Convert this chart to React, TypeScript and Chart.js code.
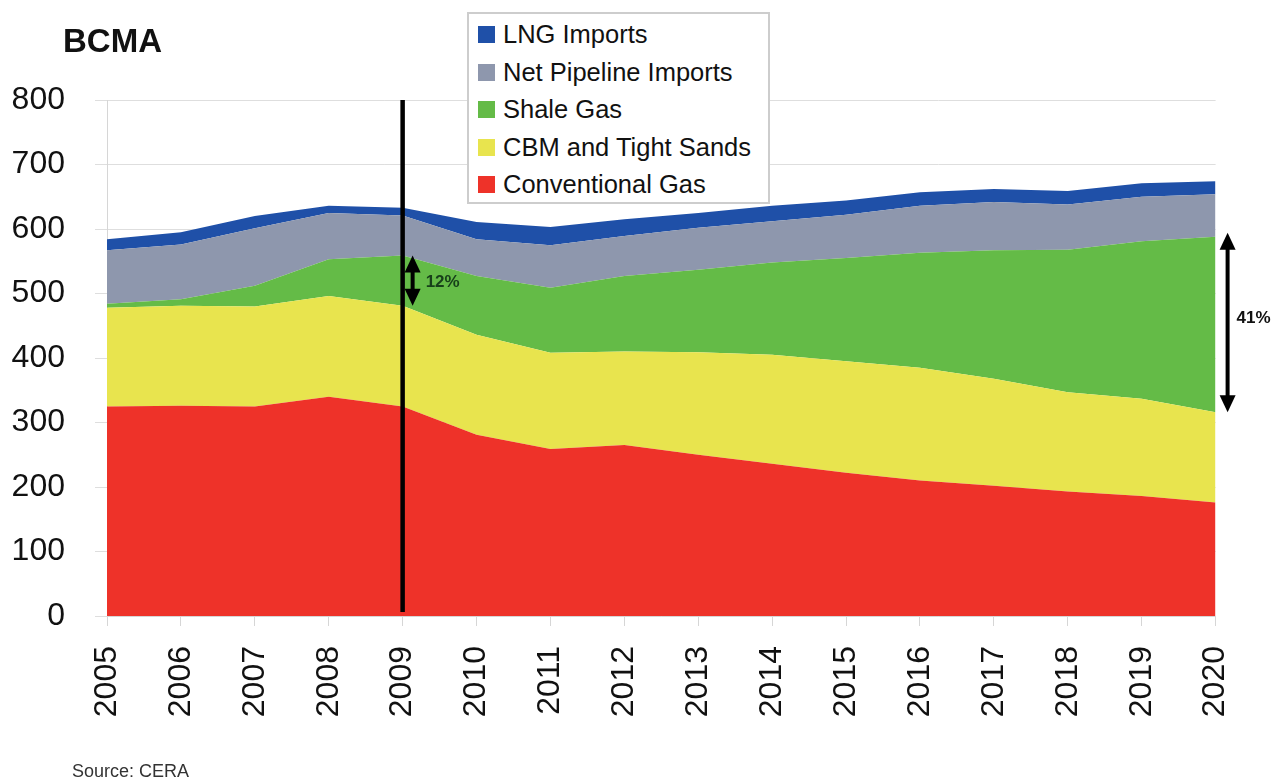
import React, { useEffect, useRef } from "react";
import { Chart, registerables } from "chart.js";

Chart.register(...registerables);

const years = ["2005","2006","2007","2008","2009","2010","2011","2012","2013","2014","2015","2016","2017","2018","2019","2020"];
const conventional = [325,326,325,340,325,281,259,265,250,236,222,210,202,193,186,176];
const cbmTight = [153,155,155,156,156,155,149,145,159,169,173,175,166,154,151,140];
const shale = [6,10,32,57,78,91,101,117,128,143,160,178,199,221,244,272];
const pipeline = [83,85,89,72,62,57,66,62,65,64,67,73,75,70,69,66];
const lng = [17,19,19,11,12,27,28,26,23,24,22,21,20,21,21,20];
const yTicks = [0,100,200,300,400,500,600,700,800];

const seriesNames = ["Conventional Gas","CBM and Tight Sands","Shale Gas","Net Pipeline Imports","LNG Imports"];
const seriesColors = ["#ee3229","#e8e44e","#64bb47","#8e97ad","#1f50a8"];
const markerYear = "2009";
const endYear = "2020";
const pctLabels = ["12%","41%"];

const FONT = "'Liberation Sans', Arial, Helvetica, sans-serif";

export default function App() {
  const ref = useRef<HTMLCanvasElement | null>(null);

  useEffect(() => {
    document.body.style.margin = "0";
    document.body.style.overflow = "hidden";
    const canvas = ref.current;
    if (!canvas) return;
    const values = [conventional, cbmTight, shale, pipeline, lng];
    const cum = (upto: number, i: number) => {
      let s = 0;
      for (let k = 0; k <= upto; k++) s += values[k][i];
      return s;
    };

    const drawArrow = (ctx: CanvasRenderingContext2D, x: number, y1: number, y2: number) => {
      const hw = 8, hh = 17;
      ctx.save();
      ctx.fillStyle = "#000";
      ctx.strokeStyle = "#000";
      ctx.lineWidth = 4;
      ctx.beginPath();
      ctx.moveTo(x, y1 + hh - 2);
      ctx.lineTo(x, y2 - hh + 2);
      ctx.stroke();
      ctx.beginPath();
      ctx.moveTo(x, y1);
      ctx.lineTo(x - hw, y1 + hh);
      ctx.lineTo(x + hw, y1 + hh);
      ctx.closePath();
      ctx.fill();
      ctx.beginPath();
      ctx.moveTo(x, y2);
      ctx.lineTo(x - hw, y2 - hh);
      ctx.lineTo(x + hw, y2 - hh);
      ctx.closePath();
      ctx.fill();
      ctx.restore();
    };

    const annot = {
      id: "annot",
      afterDatasetsDraw(chart: any) {
        const ctx = chart.ctx as CanvasRenderingContext2D;
        const xs = chart.scales.x;
        const ys = chart.scales.y;
        const area = chart.chartArea;
        const i9 = years.indexOf(markerYear);
        const i20 = years.indexOf(endYear);
        const x9 = xs.getPixelForValue(i9);
        ctx.save();
        ctx.strokeStyle = "#000";
        ctx.lineWidth = 4.5;
        ctx.beginPath();
        ctx.moveTo(x9, area.top);
        ctx.lineTo(x9, area.bottom - 4);
        ctx.stroke();
        ctx.restore();

        const a1 = ys.getPixelForValue(cum(2, i9));
        const b1 = ys.getPixelForValue(cum(1, i9));
        drawArrow(ctx, x9 + 10, a1, b1);
        ctx.save();
        ctx.font = `bold 17px ${FONT}`;
        ctx.fillStyle = "#17401a";
        ctx.textAlign = "left";
        ctx.textBaseline = "middle";
        ctx.fillText(pctLabels[0], x9 + 23, (a1 + b1) / 2 + 2);
        ctx.restore();

        const x20 = xs.getPixelForValue(i20);
        const a2 = ys.getPixelForValue(cum(2, i20)) - 4;
        const b2 = ys.getPixelForValue(cum(1, i20));
        drawArrow(ctx, x20 + 12, a2, b2);
        ctx.save();
        ctx.font = `bold 17px ${FONT}`;
        ctx.fillStyle = "#111";
        ctx.textAlign = "left";
        ctx.textBaseline = "middle";
        ctx.fillText(pctLabels[1], x20 + 21, (a2 + b2) / 2 - 4);
        ctx.restore();
      },
    };

    const chart = new Chart(canvas, {
      type: "line",
      data: {
        labels: years,
        datasets: values.map((v, k) => ({
          label: seriesNames[k],
          data: v,
          backgroundColor: seriesColors[k],
          borderColor: seriesColors[k],
          borderWidth: 0,
          pointRadius: 0,
          tension: 0,
          fill: k === 0 ? "origin" : "-1",
        })),
      },
      options: {
        responsive: false,
        animation: false,
        layout: { padding: { top: 100, right: 58, bottom: 0, left: 0 } },
        plugins: { legend: { display: false }, tooltip: { enabled: false } },
        scales: {
          x: {
            type: "category",
            offset: false,
            grid: { drawOnChartArea: false, drawTicks: true, tickLength: 10, color: "#d6d6d6" },
            border: { display: true, color: "#d6d6d6", width: 1 },
            ticks: {
              autoSkip: false,
              minRotation: 90,
              maxRotation: 90,
              padding: 20,
              color: "#111",
              font: { family: FONT, size: 32 },
            },
            afterFit(scale: any) { scale.height = 164; },
          },
          y: {
            stacked: true,
            min: 0,
            max: 800,
            afterBuildTicks(scale: any) { scale.ticks = yTicks.map((v) => ({ value: v })); },
            grid: { drawOnChartArea: true, drawTicks: true, tickLength: 12, color: "#dedede" },
            border: { display: true, color: "#d6d6d6", width: 1 },
            ticks: {
              padding: 30,
              color: "#111",
              font: { family: FONT, size: 32 },
            },
            afterFit(scale: any) { scale.width = 107; },
          },
        },
      },
      plugins: [annot],
    } as any);
    return () => chart.destroy();
  }, []);

  const legendItems = [4, 3, 2, 1, 0];

  return (
    <div style={{ position: "absolute", left: 0, top: 0, width: 1274, height: 780, background: "#fff", overflow: "hidden", fontFamily: FONT }}>
      <canvas ref={ref} width={1274} height={780} style={{ position: "absolute", left: 0, top: 0, width: 1274, height: 780 }} />
      <div style={{ position: "absolute", left: 63, top: 24, fontSize: 33, lineHeight: "33px", fontWeight: "bold", color: "#111" }}>BCMA</div>
      <div style={{ position: "absolute", left: 467, top: 12, width: 299, height: 186, border: "2px solid #cdcdcd", background: "#fff", paddingTop: 2, boxSizing: "content-box" }}>
        {legendItems.map((k) => (
          <div key={k} style={{ display: "flex", alignItems: "center", height: 37.5, paddingLeft: 9 }}>
            <div style={{ width: 17, height: 17, background: seriesColors[k], marginRight: 8 }} />
            <span style={{ fontSize: 25.5, color: "#111", whiteSpace: "nowrap" }}>{seriesNames[k]}</span>
          </div>
        ))}
      </div>
      <div style={{ position: "absolute", left: 72, top: 762, fontSize: 18, lineHeight: "18px", color: "#333" }}>Source: CERA</div>
    </div>
  );
}
